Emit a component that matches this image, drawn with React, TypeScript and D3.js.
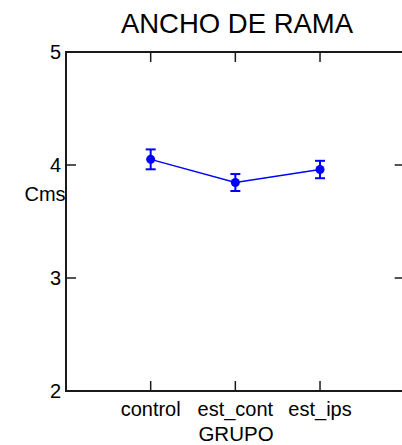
import React from "react";
import * as d3 from "d3";

// Group means and half-width of error bars
const groups = ["control", "est_cont", "est_ips"];
const means = [4.05, 3.845, 3.96];
const errors = [0.088, 0.075, 0.077];
const yTicks = [2, 3, 4, 5];

const W = 402;
const H = 445;
const FONT = "'Liberation Sans', Arial, sans-serif";

export default function App() {
  const left = 66;
  const top = 52;
  const bottom = 391;
  const right = 404.7;

  const x = d3.scaleLinear().domain([0, groups.length + 1]).range([left, right]);
  const y = d3.scaleLinear().domain([2, 5]).range([bottom, top]);

  const line = d3
    .line<number>()
    .x((_, i) => x(i + 1))
    .y((d) => y(d));

  const blue = "#0000ff";
  const ink = "#1a1a1a";
  const tickLen = 10;

  return (
    <svg
      width={W}
      height={H}
      style={{ position: "absolute", left: 0, top: 0, background: "#fff" }}
      fontFamily={FONT}
    >
      <text x={237} y={33} textAnchor="middle" fontSize={27.5} fill="#000">
        ANCHO DE RAMA
      </text>

      {/* frame */}
      <g stroke={ink} strokeWidth={2} fill="none">
        <line x1={left} x2={left} y1={top - 1} y2={bottom + 1} />
        <line x1={left} x2={right} y1={top} y2={top} />
        <line x1={left} x2={right} y1={bottom} y2={bottom} />
        <line x1={right} x2={right} y1={top} y2={bottom} />
      </g>

      {/* ticks */}
      <g stroke={ink} strokeWidth={1.5}>
        {groups.map((g, i) => (
          <g key={g}>
            <line x1={x(i + 1)} x2={x(i + 1)} y1={top} y2={top + tickLen} />
            <line x1={x(i + 1)} x2={x(i + 1)} y1={bottom} y2={bottom - tickLen} />
          </g>
        ))}
        {yTicks.map((t) => (
          <g key={t}>
            <line x1={left} x2={left + tickLen} y1={y(t)} y2={y(t)} />
            <line x1={right} x2={right - tickLen} y1={y(t)} y2={y(t)} />
          </g>
        ))}
      </g>

      {/* tick labels */}
      <g fontSize={20} fill="#000">
        {yTicks.map((t) => (
          <text key={t} x={left - 5} y={y(t)} dy="0.36em" textAnchor="end">
            {t}
          </text>
        ))}
        {groups.map((g, i) => (
          <text key={g} x={x(i + 1)} y={bottom + 25} textAnchor="middle">
            {g}
          </text>
        ))}
      </g>

      <text x={236} y={441} textAnchor="middle" fontSize={20.5} fill="#000">
        GRUPO
      </text>
      <text x={45} y={201} textAnchor="middle" fontSize={20} fill="#000">
        Cms
      </text>

      {/* series */}
      <path d={line(means) ?? ""} fill="none" stroke={blue} strokeWidth={1.5} />
      {means.map((m, i) => {
        const cx = x(i + 1);
        return (
          <g key={groups[i]} stroke={blue} strokeWidth={2}>
            <line x1={cx} x2={cx} y1={y(m + errors[i])} y2={y(m - errors[i])} />
            <line x1={cx - 5} x2={cx + 5} y1={y(m + errors[i])} y2={y(m + errors[i])} />
            <line x1={cx - 5} x2={cx + 5} y1={y(m - errors[i])} y2={y(m - errors[i])} />
            <circle cx={cx} cy={y(m)} r={4.5} fill={blue} stroke="none" />
          </g>
        );
      })}
    </svg>
  );
}
